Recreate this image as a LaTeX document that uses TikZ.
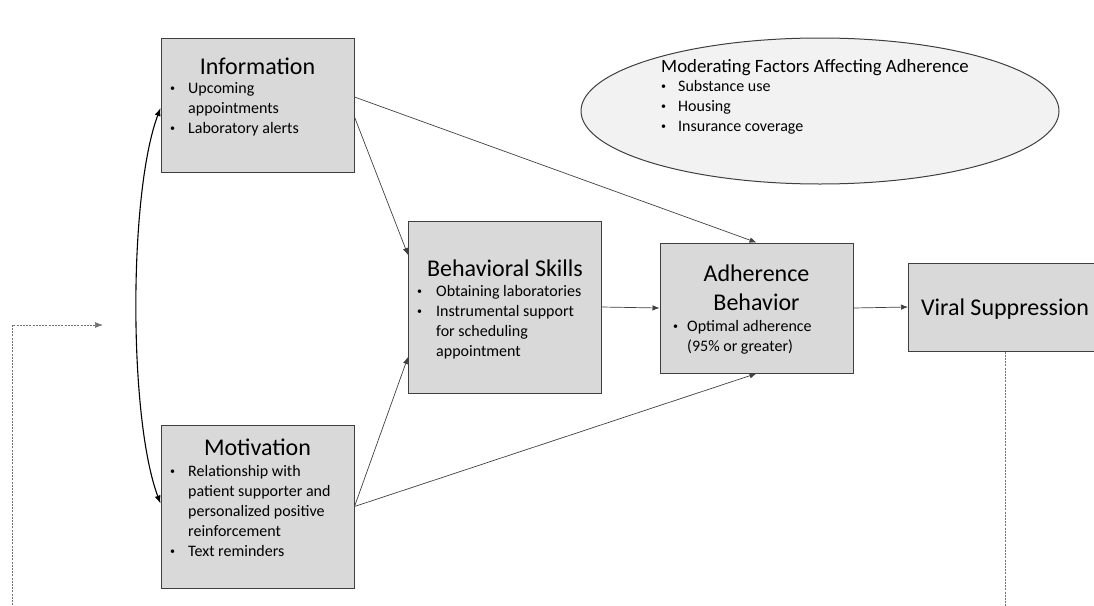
\documentclass[tikz,border=0pt]{standalone}
\usepackage{fontspec}
\setmainfont{Carlito}
\usetikzlibrary{arrows.meta,shapes.geometric}

\definecolor{boxgray}{HTML}{D9D9D9}
\definecolor{ovalgray}{HTML}{F2F2F2}
\definecolor{edgegray}{HTML}{3F3F3F}

\tikzstyle{box}=[rectangle,draw=edgegray,fill=boxgray,line width=1pt,minimum width=193pt,inner sep=0pt]
\tikzstyle{title}=[inner sep=0pt,font=\fontsize{24}{29}\selectfont]
\tikzstyle{items}=[inner sep=0pt,anchor=base west,font=\fontsize{16}{20}\selectfont]
\tikzstyle{link}=[draw=black!75,line width=0.7pt,-{Latex[length=7pt,width=5.5pt]}]
\tikzstyle{loop}=[draw=black!55,line width=0.7pt,dash pattern=on 2pt off 1.2pt,-{Latex[length=8pt,width=6pt]}]

% small bullet, and a list with one bullet column and one text column
\newcommand{\bul}{\raisebox{1.5pt}{\fontsize{10}{10}\selectfont\textbullet}}
\newcommand{\blist}[2]{\begin{tabular}[t]{@{}p{#1}@{}l@{}}#2\end{tabular}}

\begin{document}
\begin{tikzpicture}[x=1pt,y=-1pt]
		\useasboundingbox (0,0) rectangle (1094,605);
		\clip (0,0) rectangle (1094,605);

		\node[box,minimum height=134pt] (info) at (257.5,105) {};
		\node[box,minimum height=163pt] (motiv) at (257.5,506.5) {};
		\node[box,minimum height=172pt] (beh) at (505,307) {};
		\node[box,minimum height=130pt] (adh) at (756.5,308) {};
		\node[box,minimum height=88pt] (viral) at (1005,307) {};
		\node[ellipse,draw=edgegray,fill=ovalgray,line width=1pt,minimum width=478pt,minimum height=146pt] (mod) at (820,111) {};

		% titles
		\node[title,anchor=base] (infoT) at (257.5,74) {Information};
		\node[title,anchor=base] (motivT) at (257.5,455) {Motivation};
		\node[title,anchor=base] (behT) at (505,276) {Behavioral Skills};
		\node[title,anchor=base,align=center] (adhT) at (756.5,310) {Adherence\\Behavior};
		\node[title,anchor=base] (viralT) at (1005,315) {Viral Suppression};
		\node[inner sep=0pt,anchor=base west,font=\fontsize{18.8}{22}\selectfont] (modT) at (661,72) {Moderating Factors Affecting Adherence};

		% bullet lists
		\node[items] (infoL) at (170,93) {\blist{18pt}{\bul & Upcoming\\ & appointments\\ \bul & Laboratory alerts}};
		\node[items] (motivL) at (170,476) {\blist{18pt}{\bul & Relationship with\\ & patient supporter and\\ & personalized positive\\ & reinforcement\\ \bul & Text reminders}};
		\node[items] (behL) at (417,296) {\blist{19pt}{\bul & Obtaining laboratories\\ \bul & Instrumental support\\ & for scheduling\\ & appointment}};
		\node[items] (adhL) at (673,331) {\blist{14pt}{\bul & Optimal adherence\\ & (95\% or greater)}};
		\node[items] (modL) at (661,91) {\blist{17pt}{\bul & Substance use\\ \bul & Housing\\ \bul & Insurance coverage}};

		% paths between the components
		\draw[link] ([yshift=8]info.east) -- (adh.north);
		\draw[link] ([yshift=-12]info.east) -- ([yshift=52]beh.west);
		\draw[link] (motiv.east) -- ([yshift=-50]beh.west);
		\draw[link] (motiv.east) -- (adh.south);
		\draw[link] (beh.east) -- (adh.west);
		\draw[link] (adh.east) -- (viral.west);
		\draw[black,line width=1.1pt,{Latex[length=8pt,width=6pt]}-{Latex[length=8pt,width=6pt]}]
			([yshift=-3]info.west) .. controls +(-32,85) and +(-32,-85) .. ([yshift=3]motiv.west);

		% feedback from viral suppression
		\coordinate (back) at (103,325);
		\draw[loop] (viral.south) -- (1005,625) -- (12,625) -- (12,325) -- (back);
\end{tikzpicture}
\end{document}
